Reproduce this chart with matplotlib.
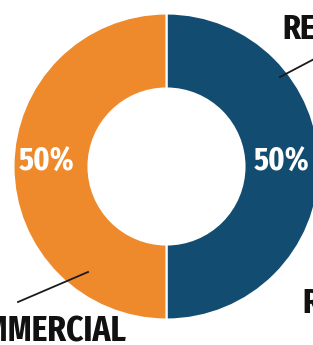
import matplotlib.pyplot as plt
from matplotlib import font_manager

# --- Daten ---
labels = ["RESIDENTIAL", "COMMERCIAL"]
shares = [50, 50]
colors = ["#124c70", "#ef8a2c"]
extra_label = "RETAIL"

# --- Layout (Pixel, y von oben) ---
W, H = 313, 345
cx, cy = 166.5, 166.5
r_out = 153
r_in = 78


def pick_condensed():
    # moeglichst schmale, fette Schrift suchen (Bebas-aehnlich)
    cands = []
    for f in font_manager.fontManager.ttflist:
        key = f.name + " " + f.fname + " " + str(f.stretch)
        if "ExtraCondensed" in key or "Extra Condensed" in key or "extra-condensed" in key:
            rank = 0
        elif "SemiCondensed" in key or "Semi Condensed" in key or "semi-condensed" in key:
            rank = 2
        elif "Condensed" in key or "condensed" in key or "Narrow" in key:
            rank = 1
        else:
            continue
        w = f.weight if isinstance(f.weight, int) else 700
        if "Italic" in f.fname or f.style != "normal":
            continue
        cands.append((rank, abs(w - 700), f.fname))
    if cands:
        cands.sort()
        return font_manager.FontProperties(fname=cands[0][2])
    return None


fp = pick_condensed()
found = fp is not None
if fp is None:
    fp = font_manager.FontProperties(family="DejaVu Sans", weight="bold")

fig = plt.figure(figsize=(W / 100, H / 100), dpi=100)
ax = fig.add_axes([0, 0, 1, 1])


def py(y):
    return H - y


ax.pie(shares, colors=colors, startangle=90, counterclock=False,
       center=(cx, py(cy)), radius=r_out, frame=True,
       wedgeprops=dict(width=r_out - r_in, edgecolor="white", linewidth=1.5))

s = 1.0 if found else 0.72

# Prozentwerte
pct_pos = [(282, 162), (47, 162)]
for v, (x, y) in zip(shares, pct_pos):
    ax.text(x, py(y), f"{v}%", color="white", fontproperties=fp,
            fontsize=23.5 * s, ha="center", va="center")

# Beschriftungen mit Hinweislinien
ax.text(282, py(40), labels[0], fontproperties=fp, fontsize=25 * s,
        color="#111111", ha="left", va="baseline")
ax.plot([280, 318], [py(77), py(57)], color="#1a1a1a", lw=1.3)

ax.text(126, py(342), labels[1], fontproperties=fp, fontsize=26 * s,
        color="#111111", ha="right", va="baseline")
ax.plot([88, 18], [py(272), py(302)], color="#1a1a1a", lw=1.3)

ax.text(302, py(313), extra_label, fontproperties=fp, fontsize=25 * s,
        color="#111111", ha="left", va="baseline")

ax.set_xlim(0, W)
ax.set_ylim(0, H)
ax.set_aspect("auto")
ax.axis("off")

fig.savefig("out.png", dpi=100)
